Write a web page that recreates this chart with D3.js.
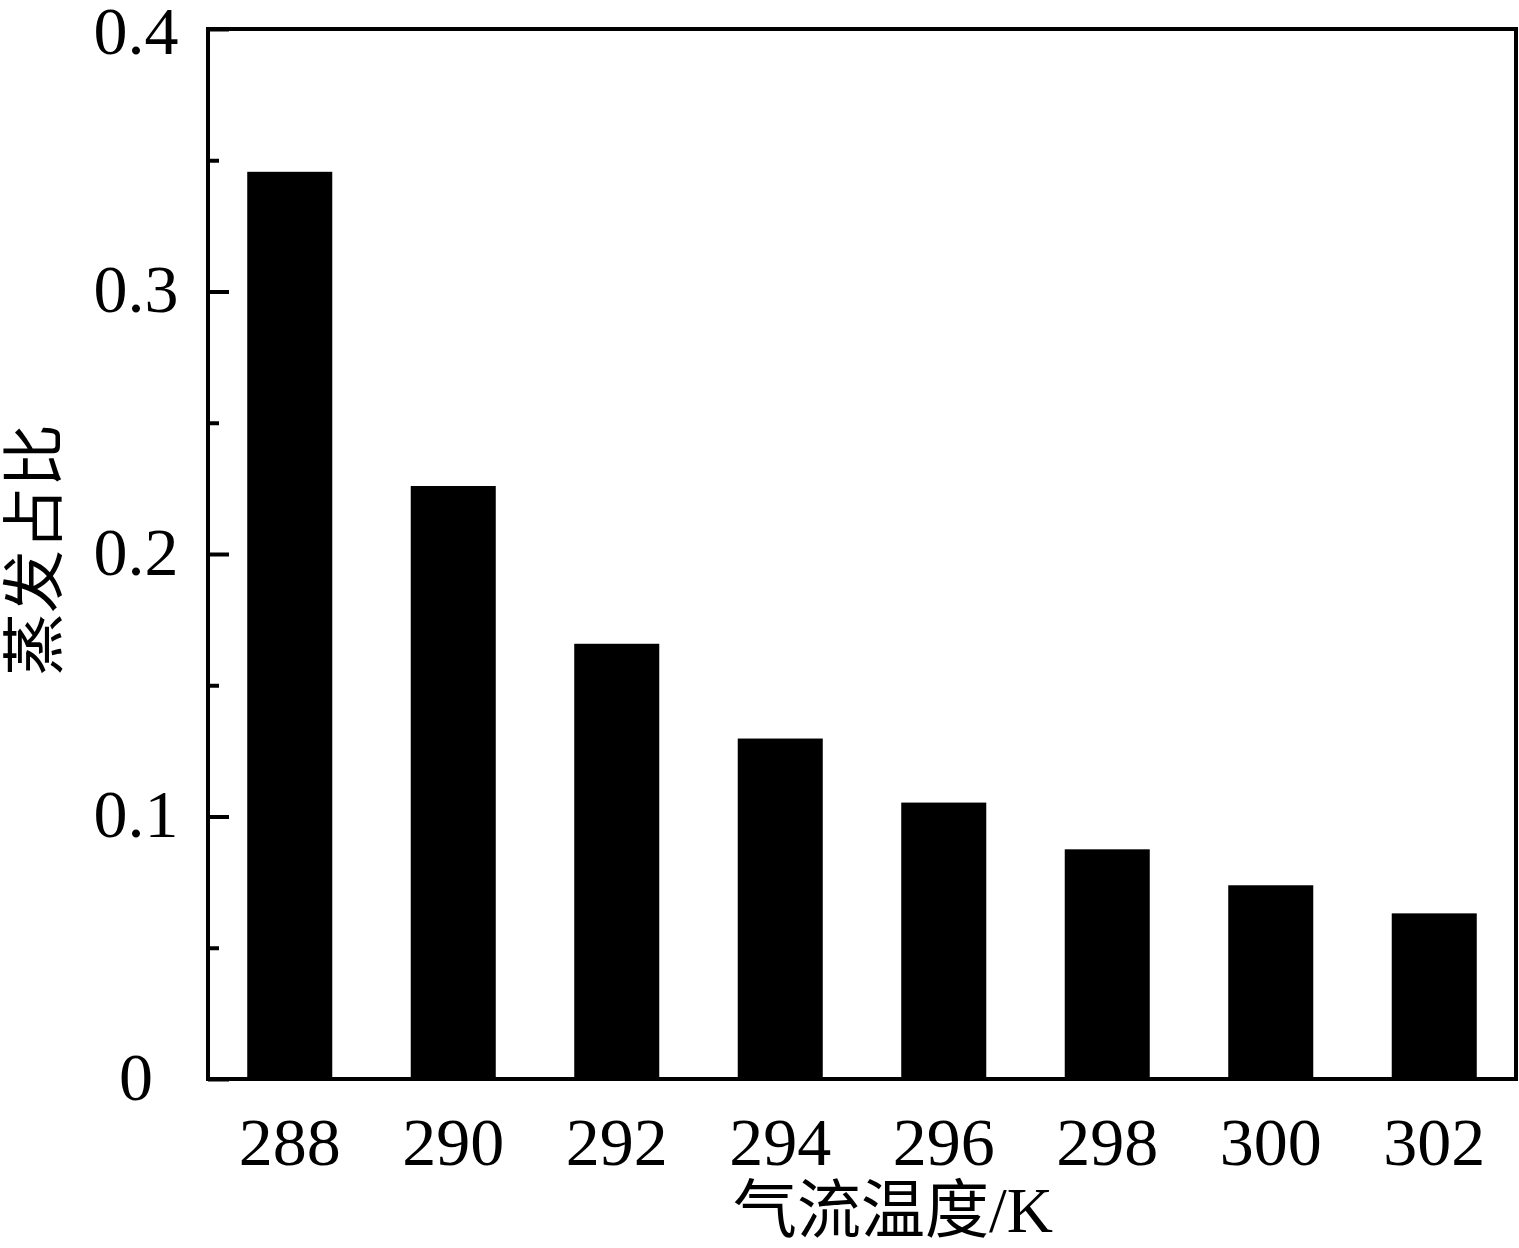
<!DOCTYPE html>
<html><head><meta charset="utf-8">
<script src="https://cdn.jsdelivr.net/npm/d3@7"></script>
<style>body{margin:0;background:#fff}svg{display:block}</style>
</head><body>
<script>
const categories = ["288","290","292","294","296","298","300","302"];
const values = [0.3456, 0.2259, 0.1658, 0.1297, 0.1053, 0.0875, 0.0738, 0.0631];
const yTicks = [0, 0.1, 0.2, 0.3, 0.4];
const yMinorTicks = [0.05, 0.15, 0.25, 0.35];
const xTitle = "气流温度/K";
const yTitle = "蒸发占比";

const W = 1519, H = 1248;
const m = {left:208, right:1516, top:29, bottom:1079};
const serif = "'Liberation Serif','Times New Roman',serif";
const cjk = "'Liberation Serif','Noto Sans CJK SC',serif";

const svg = d3.select("body").append("svg").attr("width",W).attr("height",H);
const x = d3.scaleBand().domain(categories).range([m.left,m.right]).paddingInner(0.48).paddingOuter(0.24);
const y = d3.scaleLinear().domain([0,0.4]).range([m.bottom,m.top]);

svg.append("g").selectAll("rect").data(values).join("rect")
  .attr("x",(d,i)=>x(categories[i])).attr("width",x.bandwidth())
  .attr("y",d=>y(d)).attr("height",d=>y(0)-y(d)).attr("fill","#000");

// frame
svg.append("rect").attr("x",m.left).attr("y",m.top).attr("width",m.right-m.left).attr("height",m.bottom-m.top)
  .attr("fill","none").attr("stroke","#000").attr("stroke-width",4);

// y major ticks (inward)
const ya = d3.axisRight(y).tickValues(yTicks).tickSize(21).tickFormat("");
const gy = svg.append("g").attr("transform",`translate(${m.left},0)`).call(ya);
gy.select(".domain").remove();
gy.selectAll("line").attr("stroke","#000").style("stroke-width","4px");
const ym = d3.axisRight(y).tickValues(yMinorTicks).tickSize(11).tickFormat("");
const gym = svg.append("g").attr("transform",`translate(${m.left},0)`).call(ym);
gym.select(".domain").remove();
gym.selectAll("line").attr("stroke","#000").style("stroke-width","4px");

// y labels
svg.append("g").selectAll("text").data(yTicks).join("text")
  .attr("x",136).attr("y",d=>Math.max(y(d)-3, 30)).attr("dy","0.35em")
  .attr("text-anchor","middle").attr("font-family",serif).attr("font-size",68)
  .text(d=>d===0?"0":d3.format(".1f")(d));

// x labels
svg.append("g").selectAll("text").data(categories).join("text")
  .attr("x",d=>x(d)+x.bandwidth()/2).attr("y",1165)
  .attr("text-anchor","middle").attr("font-family",serif).attr("font-size",68)
  .text(d=>d);

svg.append("text").attr("x",893).attr("y",1232).attr("text-anchor","middle")
  .attr("font-family",cjk).attr("font-size",64).text(xTitle);

svg.append("text").attr("transform","translate(56,550) rotate(-90)").attr("text-anchor","middle")
  .attr("font-family",cjk).attr("font-size",63).text(yTitle);
</script>
</body></html>
